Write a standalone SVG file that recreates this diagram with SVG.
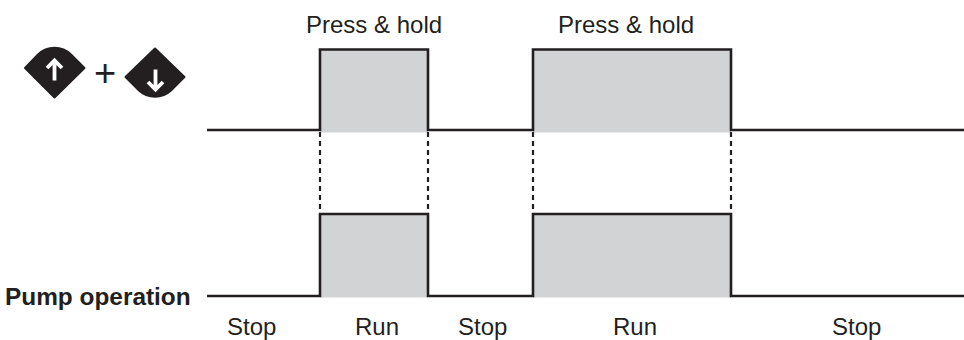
<svg xmlns="http://www.w3.org/2000/svg" width="964" height="340" viewBox="0 0 964 340">
  <style>
    .txt { font-family: "Liberation Sans", Arial, sans-serif; font-size: 24px; fill: #231f20; }
    .bold { font-weight: bold; font-size: 24.4px; }
    .sig { fill: none; stroke: #231f20; stroke-width: 2.6; stroke-linejoin: miter; }
    .shade { fill: #d1d3d4; stroke: none; }
    .dash { stroke: #231f20; stroke-width: 2.2; stroke-dasharray: 5 4; fill: none; }
    .key { fill: #231f20; stroke: #231f20; stroke-width: 2; stroke-linejoin: round; }
    .arrow { fill: none; stroke: #ffffff; stroke-width: 3.8; stroke-linecap: butt; stroke-linejoin: miter; }
  </style>
  <rect width="964" height="340" fill="#ffffff"/>

  <g id="key-up">
    <path class="key" d="M25,68 L38,54.5 A23.6,23.6 0 0 1 71,54.5 L84.5,68 L54.5,97.5 Z"/>
    <path class="arrow" d="M54.5,80.5 V61 M47,68 L54.5,60.5 L62,68"/>
  </g>
  <text id="plus" class="txt" x="105" y="85.5" style="font-size:38px" text-anchor="middle">+</text>
  <g id="key-down">
    <path class="key" d="M125.5,77 L155,48.5 L184.5,77 L171,90.5 A23.6,23.6 0 0 1 139,90.5 Z"/>
    <path class="arrow" d="M155.5,69.5 V89 M148,82 L155.5,89.5 L163,82"/>
  </g>

  <g id="button-signal">
    <rect class="shade" x="320" y="49" width="108" height="83.5"/>
    <rect class="shade" x="533" y="49" width="198" height="83.5"/>
    <path class="sig" d="M207,130 H320 V49.5 H428 V130 H533 V49.5 H731 V130 H964"/>
  </g>

  <g id="pump-signal">
    <rect class="shade" x="320" y="214" width="108" height="83.5"/>
    <rect class="shade" x="533" y="214" width="198" height="83.5"/>
    <path class="sig" d="M207,296 H320 V214 H428 V296 H533 V214 H731 V296 H964"/>
  </g>

  <g id="connectors">
    <line class="dash" x1="320" y1="132" x2="320" y2="213"/>
    <line class="dash" x1="428" y1="132" x2="428" y2="213"/>
    <line class="dash" x1="533" y1="132" x2="533" y2="213"/>
    <line class="dash" x1="731" y1="132" x2="731" y2="213"/>
  </g>

  <g id="labels">
    <text class="txt" x="306" y="33">Press &amp; hold</text>
    <text class="txt" x="558" y="33">Press &amp; hold</text>
    <text class="txt bold" x="5" y="305">Pump operation</text>
    <text class="txt" x="227" y="335">Stop</text>
    <text class="txt" x="355" y="335">Run</text>
    <text class="txt" x="458" y="335">Stop</text>
    <text class="txt" x="613" y="335">Run</text>
    <text class="txt" x="832" y="335">Stop</text>
  </g>
</svg>
